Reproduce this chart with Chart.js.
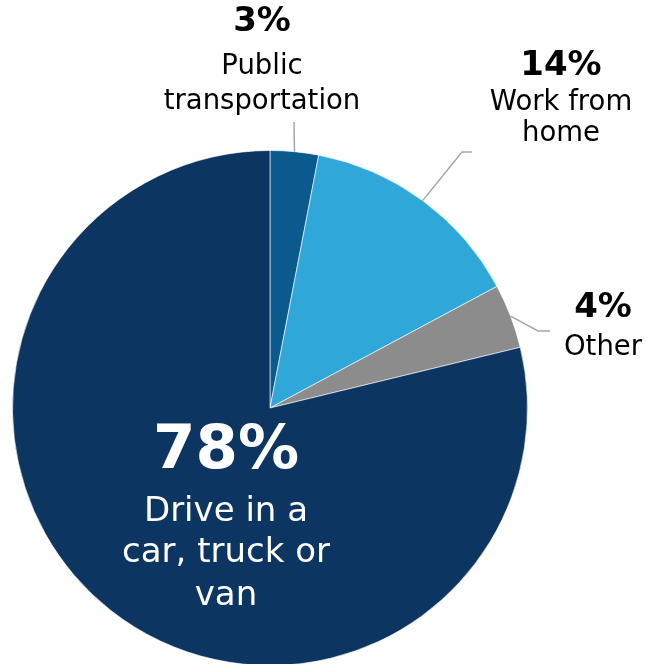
<!DOCTYPE html>
<html>
<head>
<meta charset="utf-8">
<script src="https://cdn.jsdelivr.net/npm/chart.js@4"></script>
<style>
  html, body { margin: 0; padding: 0; background: #fff; overflow: hidden; }
  #wrap { width: 646px; height: 664px; overflow: hidden; }
</style>
</head>
<body>
<div id="wrap"><canvas id="pie" width="646" height="670"></canvas></div>
<script>
// Datos de la gráfica (en sentido horario desde arriba)
const categorias = ['Public transportation', 'Work from home', 'Other', 'Drive in a car, truck or van'];
const valores = [3, 14, 4, 78];
const colores = ['#0a5a8e', '#2fa7d8', '#8c8c8c', '#0c3561'];

// Etiquetas: porcentaje + líneas de texto
const etiquetas = [
    { pct: '3%', lineas: ['Public', 'transportation'] },
    { pct: '14%', lineas: ['Work from', 'home'] },
    { pct: '4%', lineas: ['Other'] },
    { pct: '78%', lineas: ['Drive in a', 'car, truck or', 'van'] }
];

const fuente = '"DejaVu Sans", sans-serif';

// Posiciones de texto y codos de las líneas guía
const layoutEtiquetas = [
    { x: 262, y: 22, size: 34, sub: 27.5, ys: [67, 102], color: '#000', codo: [[294, 122]] },
    { x: 561, y: 66, size: 34, sub: 27.5, ys: [103, 134], color: '#000', codo: [[462, 152], [472, 152]] },
    { x: 603, y: 308, size: 34, sub: 27.5, ys: [348], color: '#000', codo: [[538, 331], [550, 331]] },
    { x: 226, y: 452, size: 61, sub: 34, ys: [512, 553, 596], color: '#fff', codo: null }
];

const pluginEtiquetas = {
    id: 'etiquetas',
    afterDatasetsDraw(chart) {
        const ctx = chart.ctx;
        const arcs = chart.getDatasetMeta(0).data;
        ctx.save();
        arcs.forEach((arc, i) => {
            const lay = layoutEtiquetas[i];
            const et = etiquetas[i];
            // línea guía desde el borde del sector
            if (lay.codo) {
                const p = arc.getProps(['x', 'y', 'startAngle', 'endAngle', 'outerRadius'], true);
                const a = (p.startAngle + p.endAngle) / 2;
                ctx.strokeStyle = '#a6a6a6';
                ctx.lineWidth = 1.5;
                ctx.beginPath();
                ctx.moveTo(p.x + Math.cos(a) * p.outerRadius, p.y + Math.sin(a) * p.outerRadius);
                lay.codo.forEach(pt => ctx.lineTo(pt[0], pt[1]));
                ctx.stroke();
            }
            ctx.fillStyle = lay.color;
            ctx.textAlign = 'center';
            ctx.textBaseline = 'middle';
            ctx.font = 'bold ' + lay.size + 'px ' + fuente;
            ctx.fillText(et.pct, lay.x, lay.y);
            ctx.font = lay.sub + 'px ' + fuente;
            et.lineas.forEach((l, j) => ctx.fillText(l, lay.x, lay.ys[j]));
        });
        ctx.restore();
    }
};

new Chart(document.getElementById('pie'), {
    type: 'pie',
    data: {
        labels: categorias,
        datasets: [{
            data: valores,
            backgroundColor: colores,
            borderColor: 'rgba(255,255,255,0.6)',
            borderWidth: 1
        }]
    },
    options: {
        responsive: false,
        animation: false,
        layout: { padding: { top: 150, left: 12, right: 118, bottom: 4 } },
        plugins: {
            legend: { display: false },
            tooltip: { enabled: false }
        }
    },
    plugins: [pluginEtiquetas]
});
</script>
</body>
</html>
